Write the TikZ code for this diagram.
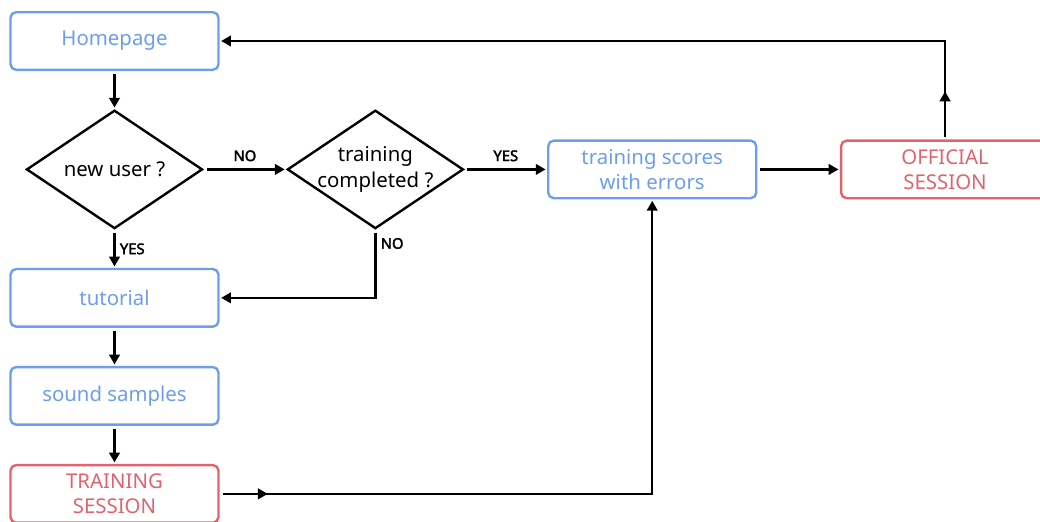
\documentclass[tikz,border=0pt]{standalone}
\usepackage{fontspec}
\setmainfont{Noto Sans}
\newfontfamily\tagfont{Noto Sans}[FakeBold=2.5]
\usetikzlibrary{shapes.geometric,arrows.meta,positioning,decorations.markings}
\definecolor{stepblue}{RGB}{109,158,235}
\definecolor{sessred}{RGB}{226,98,110}

\begin{document}
\begin{tikzpicture}[
    x=0.025cm, y=-0.025cm,
    node distance=0.95cm and 2.06cm,
    every node/.style={font=\fontsize{14.5}{18}\selectfont},
    stepbox/.style={rectangle, draw=stepblue, text=stepblue, line width=1.7pt,
                    rounded corners=4pt, minimum width=5.2cm, minimum height=1.44cm,
                    align=center, inner sep=2pt},
    sessbox/.style={stepbox, draw=sessred, text=sessred},
    decision/.style={diamond, draw=black, line width=1.7pt, minimum width=4.4cm,
                     minimum height=2.96cm, inner sep=0pt},
    qtext/.style={align=center, text=black},
    answer/.style={font=\tagfont\fontsize{10.5}{12}\selectfont, text=black, inner sep=3pt},
    arr/.style={-{Triangle[length=7pt,width=7.5pt]}, line width=1.7pt,
                shorten <=2pt, shorten >=1pt},
    midarr/.style={postaction={decorate}, decoration={markings,
                   mark=at position 1.2cm with {\arrow{Triangle[length=7pt,width=7.5pt]}}}},
]
\useasboundingbox (0,0) rectangle (1040,521);

\node[stepbox] (home) at (114.5,41) {Homepage};
\node[decision, below=of home,    label={[qtext]center:new user ?}] (newuser) {};
\node[decision, right=of newuser, label={[qtext]center:{training\\completed ?}}] (trained) {};
\node[stepbox,  right=of trained] (scores)   {training scores\\with errors};
\node[sessbox,  right=of scores]  (official) {OFFICIAL\\SESSION};

\node[stepbox, below=of newuser]  (tutorial) {tutorial};
\node[stepbox, below=of tutorial] (samples)  {sound samples};
\node[sessbox, below=of samples]  (training) {TRAINING\\SESSION};

\draw[arr] (home)    -- (newuser);
\draw[arr] (newuser) -- node[answer, above=2pt] {NO} (trained);
\draw[arr] (trained) -- node[answer, above=2pt] {YES} (scores);
\draw[arr] (scores)  -- (official);
\draw[arr] (newuser) -- node[answer, right] {YES} (tutorial);
\draw[arr] (trained) |- node[answer, right, pos=0.1] {NO} (tutorial);
\draw[arr] (tutorial) -- (samples);
\draw[arr] (samples)  -- (training);
\draw[arr, midarr] (official) |- (home);
\draw[arr, midarr] (training) -| (scores);

\end{tikzpicture}
\end{document}
